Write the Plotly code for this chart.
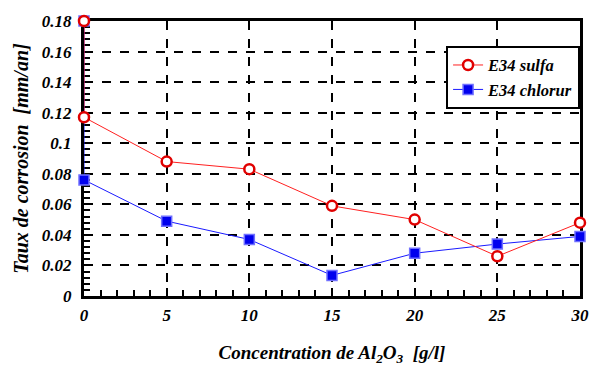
import plotly.graph_objects as go

x_sulfa = [0, 0, 5, 10, 15, 20, 25, 30]
y_sulfa = [0.18, 0.117, 0.088, 0.083, 0.059, 0.050, 0.026, 0.048]
x_chlor = [0, 0, 5, 10, 15, 20, 25, 30]
y_chlor = [0.18, 0.076, 0.049, 0.037, 0.0135, 0.028, 0.034, 0.039]
x_ticks = [0, 5, 10, 15, 20, 25, 30]
y_ticks = [0, 0.02, 0.04, 0.06, 0.08, 0.1, 0.12, 0.14, 0.16, 0.18]
y_ticklabels = ["0", "0.02", "0.04", "0.06", "0.08", "0.1", "0.12", "0.14", "0.16", "0.18"]

FONT = "Liberation Serif"
tfont = dict(family=FONT, size=17, color="black")

def bi(s):
    return "<b><i>" + s + "</i></b>"

fig = go.Figure()
fig.add_trace(go.Scatter(
    x=x_chlor, y=y_chlor, mode="lines+markers", name=bi("E34 chlorur"),
    line=dict(color="#1a1aff", width=1),
    marker=dict(symbol="square", size=10, color="#0000ee", line=dict(color="#7070ff", width=1.5)),
    cliponaxis=False,
))
fig.add_trace(go.Scatter(
    x=x_sulfa, y=y_sulfa, mode="lines+markers", name=bi("E34 sulfa"),
    line=dict(color="#ff2020", width=1),
    marker=dict(symbol="circle", size=10, color="white", line=dict(color="#e00000", width=2.5)),
    cliponaxis=False,
))

fig.update_layout(
    width=592, height=367,
    margin=dict(l=84, r=12, t=21, b=71, autoexpand=False),
    paper_bgcolor="white", plot_bgcolor="white",
    font=dict(family=FONT),
    showlegend=True,
    legend=dict(
        x=0.73, y=0.91, xanchor="left", yanchor="top",
        bgcolor="white", bordercolor="black", borderwidth=2,
        font=dict(family=FONT, size=16.5, color="black"),
        traceorder="reversed", itemwidth=30,
        tracegroupgap=0,
    ),
    xaxis=dict(
        range=[0, 30], tickvals=x_ticks, ticktext=[bi(str(v)) for v in x_ticks],
        showline=True, linecolor="black", linewidth=3, mirror=True,
        showgrid=True, gridcolor="black", gridwidth=2, griddash="dash",
        ticks="inside", ticklen=8, tickwidth=2, tickcolor="black",
        minor=dict(dtick=1, ticks="inside", ticklen=6, tickwidth=1.5, tickcolor="black", showgrid=False),
        tickfont=tfont, zeroline=False, layer="below traces",
        ticklabelstandoff=2, automargin=False,
        title=dict(text=bi("Concentration de Al<sub>2</sub>O<sub>3</sub>  [g/l]"),
                   font=dict(family=FONT, size=19, color="black"),
                   standoff=22),
    ),
    yaxis=dict(
        range=[0, 0.18], tickvals=y_ticks, ticktext=[bi(t) for t in y_ticklabels],
        showline=True, linecolor="black", linewidth=3, mirror=True,
        showgrid=True, gridcolor="black", gridwidth=2, griddash="dash",
        ticks="inside", ticklen=8, tickwidth=2, tickcolor="black",
        minor=dict(dtick=0.004, ticks="inside", ticklen=6, tickwidth=1.5, tickcolor="black", showgrid=False),
        tickfont=tfont, zeroline=False, layer="below traces",
        ticklabelstandoff=6, automargin=False,
        title=dict(text=bi("Taux de corrosion  [mm/an]"),
                   font=dict(family=FONT, size=20, color="black"),
                   standoff=8),
    ),
)

fig.write_html("out.html")
